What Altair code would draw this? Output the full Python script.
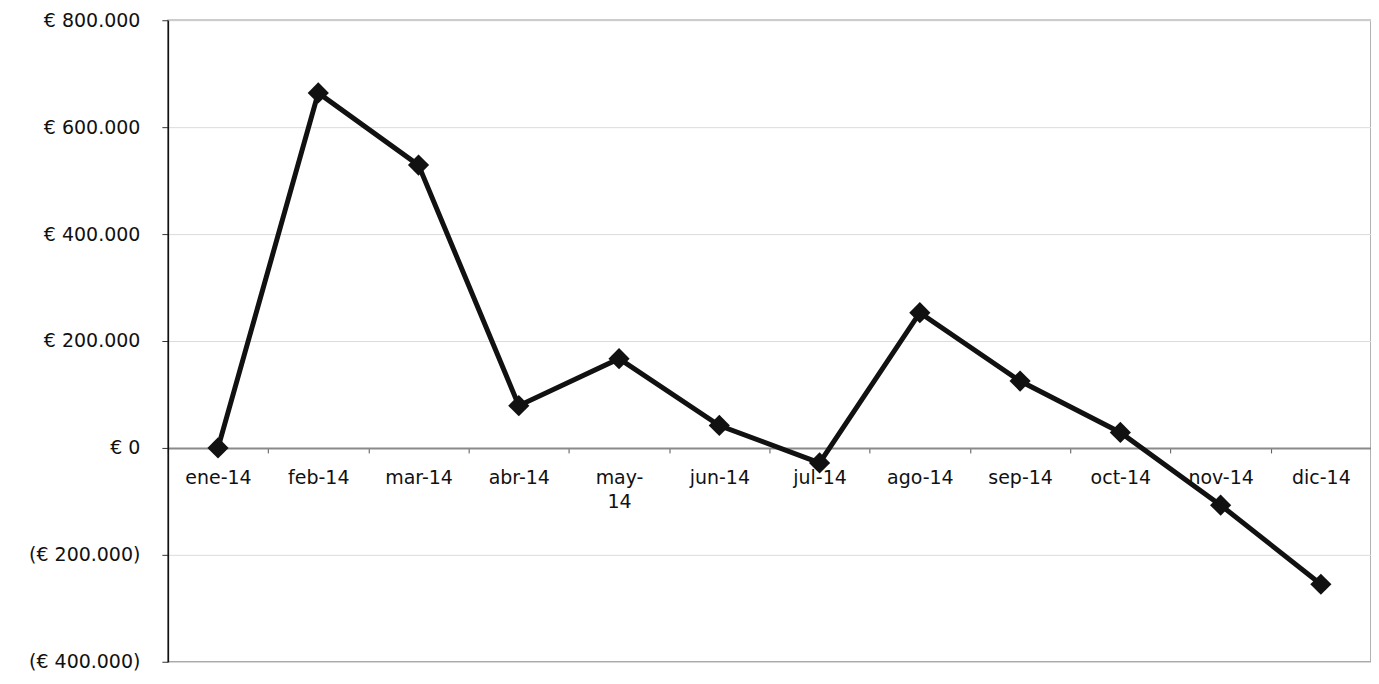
import altair as alt
import pandas as pd

months = ["ene-14", "feb-14", "mar-14", "abr-14", "may-14", "jun-14",
          "jul-14", "ago-14", "sep-14", "oct-14", "nov-14", "dic-14"]
values = [0, 664000, 529000, 79000, 167000, 42000,
          -28000, 253000, 125000, 29000, -107000, -255000]
y_ticks = [-400000, -200000, 0, 200000, 400000, 600000, 800000]

df = pd.DataFrame({"mes": months, "valor": values})

FONT = "DejaVu Sans"
H = 642

label_expr = (
    "datum.value == 0 ? '€ 0' : "
    "(datum.value < 0 ? '(€ ' + replace(format(-datum.value, ',.0f'), /,/g, '.') + ')' "
    ": '€ ' + replace(format(datum.value, ',.0f'), /,/g, '.'))"
)

x = alt.X(
    "mes:N",
    sort=months,
    scale=alt.Scale(paddingInner=0, paddingOuter=0),
    axis=alt.Axis(
        title=None,
        orient="bottom",
        offset=-(H / 3),
        labelAngle=0,
        labelFont=FONT,
        labelFontSize=19,
        labelColor="#111111",
        labelPadding=16,
        labelLineHeight=24,
        labelExpr="datum.value == 'may-14' ? ['may-', '14'] : datum.value",
        domainColor="#8a8a8a",
        domainWidth=2,
        tickColor="#555555",
        tickSize=5,
        tickBand="extent",
        grid=False,
    ),
)

y = alt.Y(
    "valor:Q",
    scale=alt.Scale(domain=[-400000, 800000], nice=False, zero=False),
    axis=alt.Axis(
        title=None,
        values=y_ticks,
        labelExpr=label_expr,
        labelFont=FONT,
        labelFontSize=19,
        labelColor="#111111",
        labelPadding=22,
        tickSize=6,
        tickColor="#333333",
        domainColor="#111111",
        domainWidth=1.5,
        grid=True,
        gridColor="#dcdcdc",
        gridWidth=1,
    ),
)

line = alt.Chart(df).mark_line(color="#111111", strokeWidth=5).encode(x=x, y=y)
points = alt.Chart(df).mark_point(
    shape="diamond", filled=True, size=450, color="#111111", opacity=1
).encode(x=x, y=y)

chart = (
    alt.layer(line, points)
    .properties(
        width=1204,
        height=H,
        autosize=alt.AutoSizeParams(type="none"),
        padding={"left": 160, "top": 12, "right": 0, "bottom": 14},
        background="white",
    )
    .configure_view(stroke="#9a9a9a", strokeWidth=1.5)
)

chart.save("out.html", embed_options={"renderer": "svg", "actions": False})
